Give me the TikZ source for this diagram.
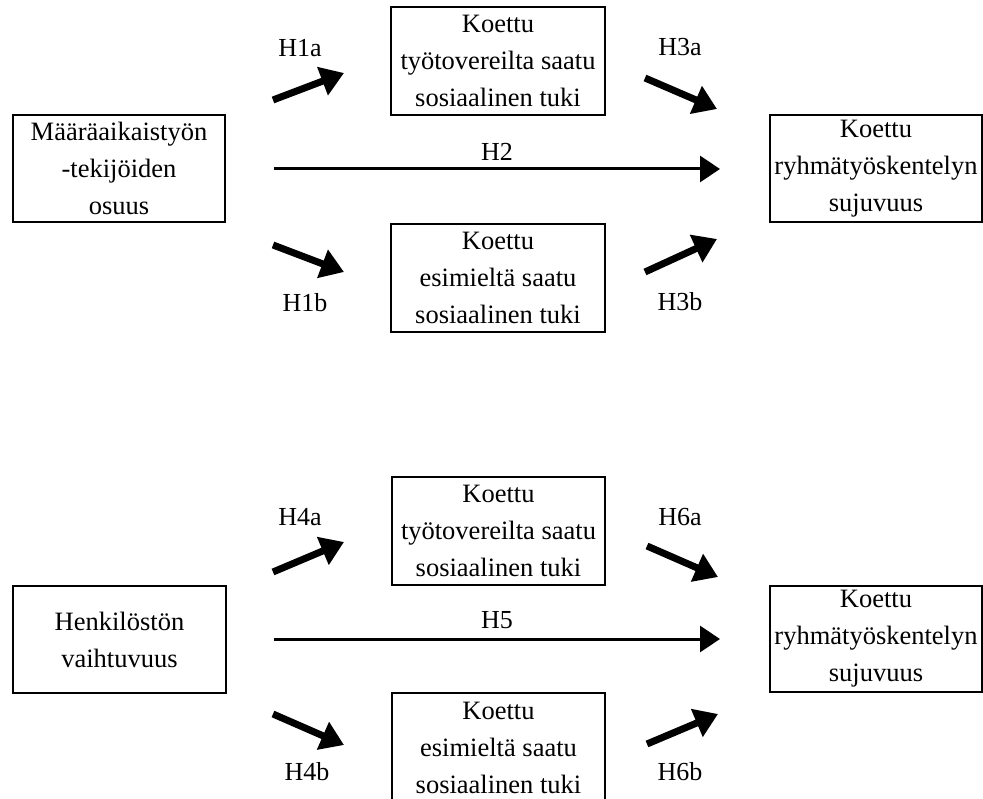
\documentclass[tikz,border=0pt]{standalone}
\usepackage{fontspec}
\setmainfont{Liberation Serif}
\usetikzlibrary{arrows.meta}
\begin{document}
\begin{tikzpicture}[x=1pt,y=-1pt,
 box/.style={draw,line width=1.5pt,align=center,inner sep=0pt,font=\fontsize{26.5}{37}\selectfont},
 lbl/.style={font=\fontsize{26}{30}\selectfont,inner sep=0pt},
 diagarrow/.style={line width=7pt,-{Triangle[length=23pt,width=29pt]}},
 longarrow/.style={line width=3pt,-{Triangle[length=20pt,width=26pt]}}]
\useasboundingbox (0,0) rectangle (983,799);

% ---------- top model ----------
\node[box,minimum width=212pt,minimum height=107pt] (A) at (119,168.5) {Määräaikaistyön\\-tekijöiden\\osuus};
\node[box,minimum width=214pt,minimum height=108pt] (B1) at (498,61) {Koettu\\työtovereilta saatu\\sosiaalinen tuki};
\node[box,minimum width=214pt,minimum height=108pt] (C1) at (498,278) {Koettu\\esimieltä saatu\\sosiaalinen tuki};
\node[box,minimum width=212pt,minimum height=107pt] (D1) at (876,168.5) {Koettu\\ryhmätyöskentelyn\\sujuvuus};

\coordinate (h1a0) at (273,100); \coordinate (h1a1) at (344,73);
\coordinate (h1b0) at (273,245); \coordinate (h1b1) at (344,272);
\coordinate (h20) at (274,169);  \coordinate (h21) at (720,169);
\coordinate (h3a0) at (645,78);  \coordinate (h3a1) at (717,109);
\coordinate (h3b0) at (645,272); \coordinate (h3b1) at (717,239);
\draw[diagarrow] (h1a0) -- (h1a1);
\draw[diagarrow] (h1b0) -- (h1b1);
\draw[longarrow] (h20) -- (h21);
\draw[diagarrow] (h3a0) -- (h3a1);
\draw[diagarrow] (h3b0) -- (h3b1);
\node[lbl] (l1a) at (300,48) {H1a};
\node[lbl] (l1b) at (305,303) {H1b};
\node[lbl] (l2) at (497,152) {H2};
\node[lbl] (l3a) at (680,47) {H3a};
\node[lbl] (l3b) at (680,302) {H3b};

% ---------- bottom model ----------
\node[box,minimum width=213pt,minimum height=107pt] (E) at (119.5,639.5) {Henkilöstön\\vaihtuvuus};
\node[box,minimum width=213pt,minimum height=108pt] (B2) at (498.5,531) {Koettu\\työtovereilta saatu\\sosiaalinen tuki};
\node[box,minimum width=213pt,minimum height=110pt] (C2) at (498.5,748) {Koettu\\esimieltä saatu\\sosiaalinen tuki};
\node[box,minimum width=212pt,minimum height=106pt] (D2) at (876,639) {Koettu\\ryhmätyöskentelyn\\sujuvuus};

\coordinate (h4a0) at (273,572); \coordinate (h4a1) at (344,542);
\coordinate (h4b0) at (273,714); \coordinate (h4b1) at (344,745);
\coordinate (h50) at (274,639);  \coordinate (h51) at (720,639);
\coordinate (h6a0) at (647,546); \coordinate (h6a1) at (718,577);
\coordinate (h6b0) at (647,744); \coordinate (h6b1) at (718,714);
\draw[diagarrow] (h4a0) -- (h4a1);
\draw[diagarrow] (h4b0) -- (h4b1);
\draw[longarrow] (h50) -- (h51);
\draw[diagarrow] (h6a0) -- (h6a1);
\draw[diagarrow] (h6b0) -- (h6b1);
\node[lbl] (l4a) at (300,517) {H4a};
\node[lbl] (l4b) at (307,772) {H4b};
\node[lbl] (l5) at (497,620) {H5};
\node[lbl] (l6a) at (680,517) {H6a};
\node[lbl] (l6b) at (680,772) {H6b};
\end{tikzpicture}
\end{document}
